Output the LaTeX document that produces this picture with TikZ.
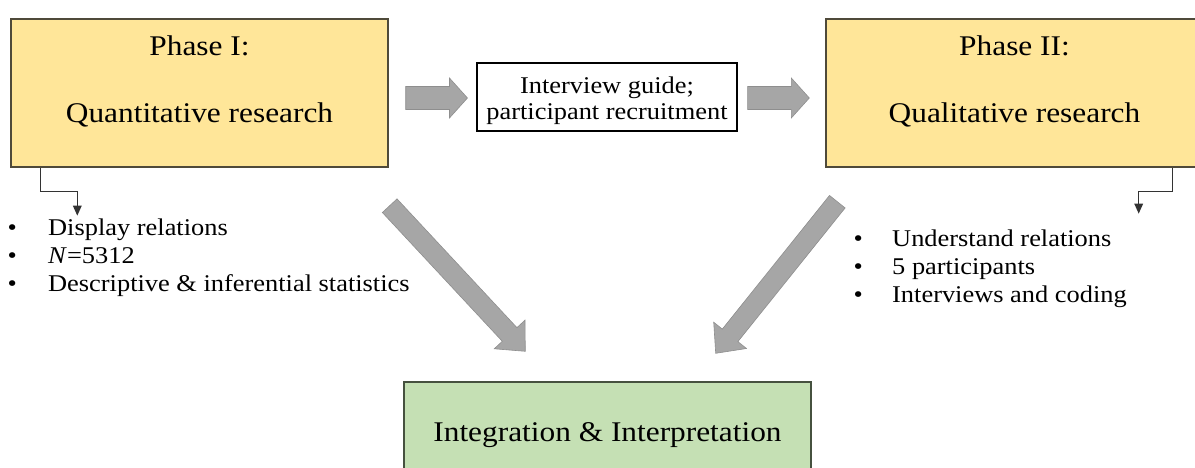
\documentclass[tikz,border=0pt]{standalone}
\usepackage{fontspec}
\setmainfont{Liberation Serif}[FakeStretch=1.1]
\usetikzlibrary{calc,arrows.meta}
\definecolor{phasefill}{HTML}{FFE699}
\definecolor{phaseline}{HTML}{4F4A3A}
\definecolor{intfill}{HTML}{C5E0B4}
\definecolor{intline}{HTML}{46513F}
\definecolor{arrowgray}{HTML}{A6A6A6}
\definecolor{arrowedge}{HTML}{8E8E8E}
\definecolor{elbowc}{HTML}{333333}
\tikzset{
  phasebox/.style={draw=phaseline, fill=phasefill, line width=1.4pt, minimum width=377pt, minimum height=148pt, inner sep=0pt},
  midbox/.style={draw=black, fill=white, line width=1.1pt, minimum width=260pt, minimum height=68pt, inner sep=0pt},
  intbox/.style={draw=intline, fill=intfill, line width=1.4pt, minimum width=407pt, minimum height=110pt, inner sep=0pt},
  headtxt/.style={anchor=base, inner sep=0pt, font=\fontsize{28.5}{32}\selectfont},
  midtxt/.style={anchor=base, inner sep=0pt, font=\fontsize{24}{27}\selectfont},
  bultxt/.style={anchor=base west, inner sep=0pt, font=\fontsize{24}{28}\selectfont},
  fatstyle/.style={fill=arrowgray, draw=arrowedge, line width=0.6pt, line join=miter},
  elbowline/.style={draw=elbowc, line width=1.5pt, -{Triangle[width=8.5pt,length=10pt]}},
}
\newcommand\fatarrow[5]{%
  \coordinate (fa-h) at ($(#2)!#5!(#1)$);
  \draw[fatstyle] ($(#1)!#3!90:(#2)$) -- ($(fa-h)!#3!90:(#2)$) -- ($(fa-h)!#4!90:(#2)$) -- (#2)
    -- ($(fa-h)!#4!-90:(#2)$) -- ($(fa-h)!#3!-90:(#2)$) -- ($(#1)!#3!-90:(#2)$) -- cycle;
}
\begin{document}
\begin{tikzpicture}[x=1pt,y=-1pt]
\useasboundingbox (0,0) rectangle (1195,468);
\clip (0,0) rectangle (1195,468);
\fill[white] (0,0) rectangle (1195,468);

% boxes
\node[phasebox] (p1) at (199.5,93) {};
\node[phasebox] (p2) at (1014.5,93) {};
\node[midbox] (mid) at (607,97) {};
\node[intbox] (int) at (607.5,437) {};

% texts
\node[headtxt] (p1a) at (199.5,56) {Phase I:};
\node[headtxt] (p1b) at (199.5,123) {Quantitative research};
\node[headtxt] (p2a) at (1014.5,56) {Phase II:};
\node[headtxt] (p2b) at (1014.5,123) {Qualitative research};
\node[midtxt] (m1) at (607,94) {Interview guide;};
\node[midtxt] (m2) at (607,119.5) {participant recruitment};
\node[headtxt] (i1) at (607.5,441) {Integration \& Interpretation};

% bullets left
\node[bultxt] (l1) at (7.5,235) {\makebox[40.5pt][l]{•}Display relations};
\node[bultxt] (l2) at (7.5,263) {\makebox[40.5pt][l]{•}\textit{N}=5312};
\node[bultxt] (l3) at (7.5,291) {\makebox[40.5pt][l]{•}Descriptive \& inferential statistics};
% bullets right
\node[bultxt] (r1) at (853.4,246) {\makebox[38.6pt][l]{•}Understand relations};
\node[bultxt] (r2) at (853.4,274) {\makebox[38.6pt][l]{•}5 participants};
\node[bultxt] (r3) at (853.4,302) {\makebox[38.6pt][l]{•}Interviews and coding};

% fat arrows
\coordinate (h1s) at ($(p1.east)+(17,5)$);
\coordinate (h1e) at ($(mid.west)+(-9,1)$);
\coordinate (h2s) at ($(mid.east)+(10,1)$);
\coordinate (h2e) at ($(p2.west)+(-16,5)$);
\fatarrow{h1s}{h1e}{11.5pt}{20pt}{18pt}
\fatarrow{h2s}{h2e}{11.5pt}{20pt}{18pt}
\coordinate (d1s) at ($(p1.south east)+(1,38)$);
\coordinate (d1e) at ($(int.north west)+(122,-30)$);
\coordinate (d2s) at ($(p2.south west)+(12,34)$);
\coordinate (d2e) at ($(int.north east)+(-96,-28)$);
\fatarrow{d1s}{d1e}{10pt}{21pt}{23pt}
\fatarrow{d2s}{d2e}{10pt}{21pt}{23pt}

% elbow connectors
\coordinate (e1) at ($(p1.south west)+(67,48)$);
\coordinate (e2) at ($(p2.south east)+(-65,46)$);
\draw[elbowline] ([xshift=30pt]p1.south west) -- ++(0,24) -| (e1);
\draw[elbowline] ([xshift=-31pt]p2.south east) -- ++(0,24) -| (e2);
\end{tikzpicture}
\end{document}
